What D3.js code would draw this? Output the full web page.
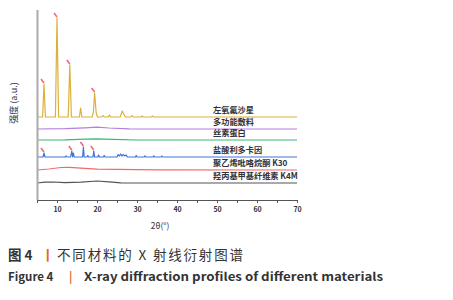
<!DOCTYPE html>
<html>
<head>
<meta charset="utf-8">
<script src="https://cdn.jsdelivr.net/npm/d3@7/dist/d3.min.js"></script>
<style>
  body { margin: 0; background: #fff; }
  text { font-family: "Noto Sans CJK SC", "Noto Sans", sans-serif; }
</style>
</head>
<body>
<div id="vis-container"></div>
<script>
// x ticks (2θ)
var xTicks = [10, 20, 30, 40, 50, 60, 70];

// series names, colors and vertical offsets (a.u.)
var names = ["左氧氟沙星", "多功能敷料", "丝素蛋白", "盐酸利多卡因", "聚乙烯吡咯烷酮 K30", "羟丙基甲基纤维素 K4M"];
var colors = ["#dcb03c", "#b57ee0", "#3cb878", "#3f74d8", "#f26a6a", "#555555"];
var offsets = [83, 71, 60, 43, 30, 17];

// [2θ, intensity]
var levofloxacin = [[5,0],[6.4,0],[6.75,33],[7.1,0],[9.6,0],[10,99],[10.4,0],[12.8,0],[13.2,52],[13.6,0],[15.6,0],[15.9,9],[16.2,0],[18.8,0],[19.1,5],[19.4,24],[19.8,4],[20.1,0],
  [21.2,0],[21.5,1.5],[21.8,0],[22.8,0],[23.1,2],[23.4,0],[25.8,0],[26.3,6],[26.7,3],[27.1,0],[28.5,0],[28.8,1.5],[29.1,0],[31,0],[31.3,1],[31.6,0],[33.6,0],[33.9,1],[34.2,0],[70,0]];
var dressing = [[5,0],[12,0.3],[17,1.2],[20,1.8],[23,1],[28,0.2],[40,0],[70,0]];
var silk = [[5,0],[12,0.2],[17,0.8],[20,1.2],[24,0.6],[30,0],[70,0]];
var lidocaine = [[5,0],[6.5,0],[6.75,4],[7,0],[12,0],[12.3,1],[12.5,0],[13.4,0],[13.7,6],[13.9,0],[14.1,4],[14.3,0],[16.4,0],[16.6,10],[16.8,0],[17.5,0],[17.7,1.5],[17.9,0],
  [19,0],[19.2,6],[19.4,0],[20.2,0],[20.4,2],[20.6,0],[21.6,0],[21.8,1.5],[22,0],[25,0],[25.3,2.5],[25.6,1],[25.9,3],[26.2,1],[26.6,2.5],[26.9,1],[27.3,2],[27.6,0],
  [29.6,0],[29.8,1.5],[30,0],[31.8,0],[32,1.2],[32.2,0],[34,0],[34.2,1.2],[34.4,0],[36,0],[36.2,1],[36.4,0],[70,0]];
var pvp = [[5,0],[8,1],[11,2.5],[13,2.6],[16,1.8],[20,0.8],[25,0.6],[35,0.2],[70,0]];
var hpmc = [[5,0],[7,0.8],[9,1],[12,0.4],[16,0.8],[20,2],[23,1.2],[26,0.2],[70,0]];
var series = [levofloxacin, dressing, silk, lidocaine, pvp, hpmc];

// marked peaks (2θ) with red arrows
var markYellow = [6.75, 10, 13.2, 19.4];
var markBlue = [6.75, 13.7, 16.6, 19.2];

var width = 453, height = 300;

var svg = d3.select("#vis-container").append("svg")
    .attr("width", width)
    .attr("height", height);

var x = d3.scaleLinear().domain([5, 70]).range([37, 297]);
var y = d3.scaleLinear().domain([0, 190]).range([200, 10]);

var line = d3.line()
    .x(d => x(d[0]))
    .y(d => d[1]);

var vis = svg.append("g");

series.forEach(function(s, i) {
    vis.append("path")
        .attr("d", line(s.map(d => [d[0], y(d[1] + offsets[i])])))
        .attr("fill", "none")
        .attr("stroke", colors[i])
        .attr("stroke-width", 1.2)
        .attr("stroke-linejoin", "round");

    vis.append("text")
        .attr("x", 213)
        .attr("y", y(offsets[i]) - 4)
        .attr("font-size", 8.2)
        .attr("font-weight", "bold")
        .attr("fill", "#333")
        .text(names[i]);
});

// red arrows on peaks
function peakTop(s, p) {
    var best = s[0];
    s.forEach(d => { if (Math.abs(d[0] - p) < Math.abs(best[0] - p)) best = d; });
    return best[1];
}
function arrows(marks, s, off) {
    marks.forEach(function(p) {
        var px = x(p), py = y(peakTop(s, p) + off);
        vis.append("line")
            .attr("x1", px - 3).attr("y1", py - 5)
            .attr("x2", px).attr("y2", py - 1)
            .attr("stroke", "#f2405e").attr("stroke-width", 1.6).attr("opacity", 0.8);
    });
}
arrows(markYellow, levofloxacin, offsets[0]);
arrows(markBlue, lidocaine, offsets[3]);

// left axis (plain gray bar)
svg.append("line")
    .attr("x1", 37.5).attr("x2", 37.5)
    .attr("y1", 10).attr("y2", 200)
    .attr("stroke", "#aaa").attr("stroke-width", 2);

// bottom axis
var xAxis = svg.append("g")
    .attr("transform", "translate(0,200)")
    .call(d3.axisBottom(x).tickValues(d3.range(5, 71, 5)).tickSize(3).tickFormat(d => xTicks.includes(d) ? d : ""));
xAxis.select(".domain").attr("stroke", "#555");
xAxis.selectAll(".tick line").attr("stroke", "#555");
xAxis.selectAll(".tick text")
    .attr("font-size", 7)
    .attr("font-weight", "bold")
    .attr("fill", "#333")
    .attr("font-family", "'Noto Sans', sans-serif")
    .attr("dy", "0.9em");

svg.append("text")
    .attr("x", 160).attr("y", 229)
    .attr("text-anchor", "middle")
    .attr("font-size", 8.5)
    .attr("fill", "#333")
    .text("2θ(°)");

svg.append("text")
    .attr("transform", "translate(17,103) rotate(-90)")
    .attr("text-anchor", "middle")
    .attr("font-size", 9)
    .attr("fill", "#334")
    .text("强度 (a.u.)");

// caption
var orange = "#e8642c";
svg.append("text").attr("x", 8).attr("y", 260).attr("font-size", 13.5).attr("font-weight", "bold").attr("fill", "#333").text("图 4");
svg.append("text").attr("x", 41).attr("y", 260).attr("font-size", 13.5).attr("font-weight", "bold").attr("fill", orange).text("丨");
svg.append("text").attr("x", 57).attr("y", 260).attr("font-size", 13.5).attr("fill", "#333")
    .attr("textLength", 186).attr("lengthAdjust", "spacing")
    .text("不同材料的 X 射线衍射图谱");

var enFont = "'Open Sans', 'Noto Sans', sans-serif";
svg.append("text").attr("x", 8).attr("y", 281).attr("font-size", 11.5).attr("font-weight", "bold").attr("fill", "#333")
    .attr("font-family", enFont).text("Figure 4");
svg.append("text").attr("x", 69).attr("y", 281).attr("font-size", 11.5).attr("font-weight", "bold").attr("fill", orange)
    .attr("font-family", enFont).text("|");
svg.append("text").attr("x", 84).attr("y", 281).attr("font-size", 11.5).attr("font-weight", "bold").attr("fill", "#333")
    .attr("font-family", enFont).attr("textLength", 299).attr("lengthAdjust", "spacingAndGlyphs")
    .text("X-ray diffraction profiles of different materials");
</script>
</body>
</html>
